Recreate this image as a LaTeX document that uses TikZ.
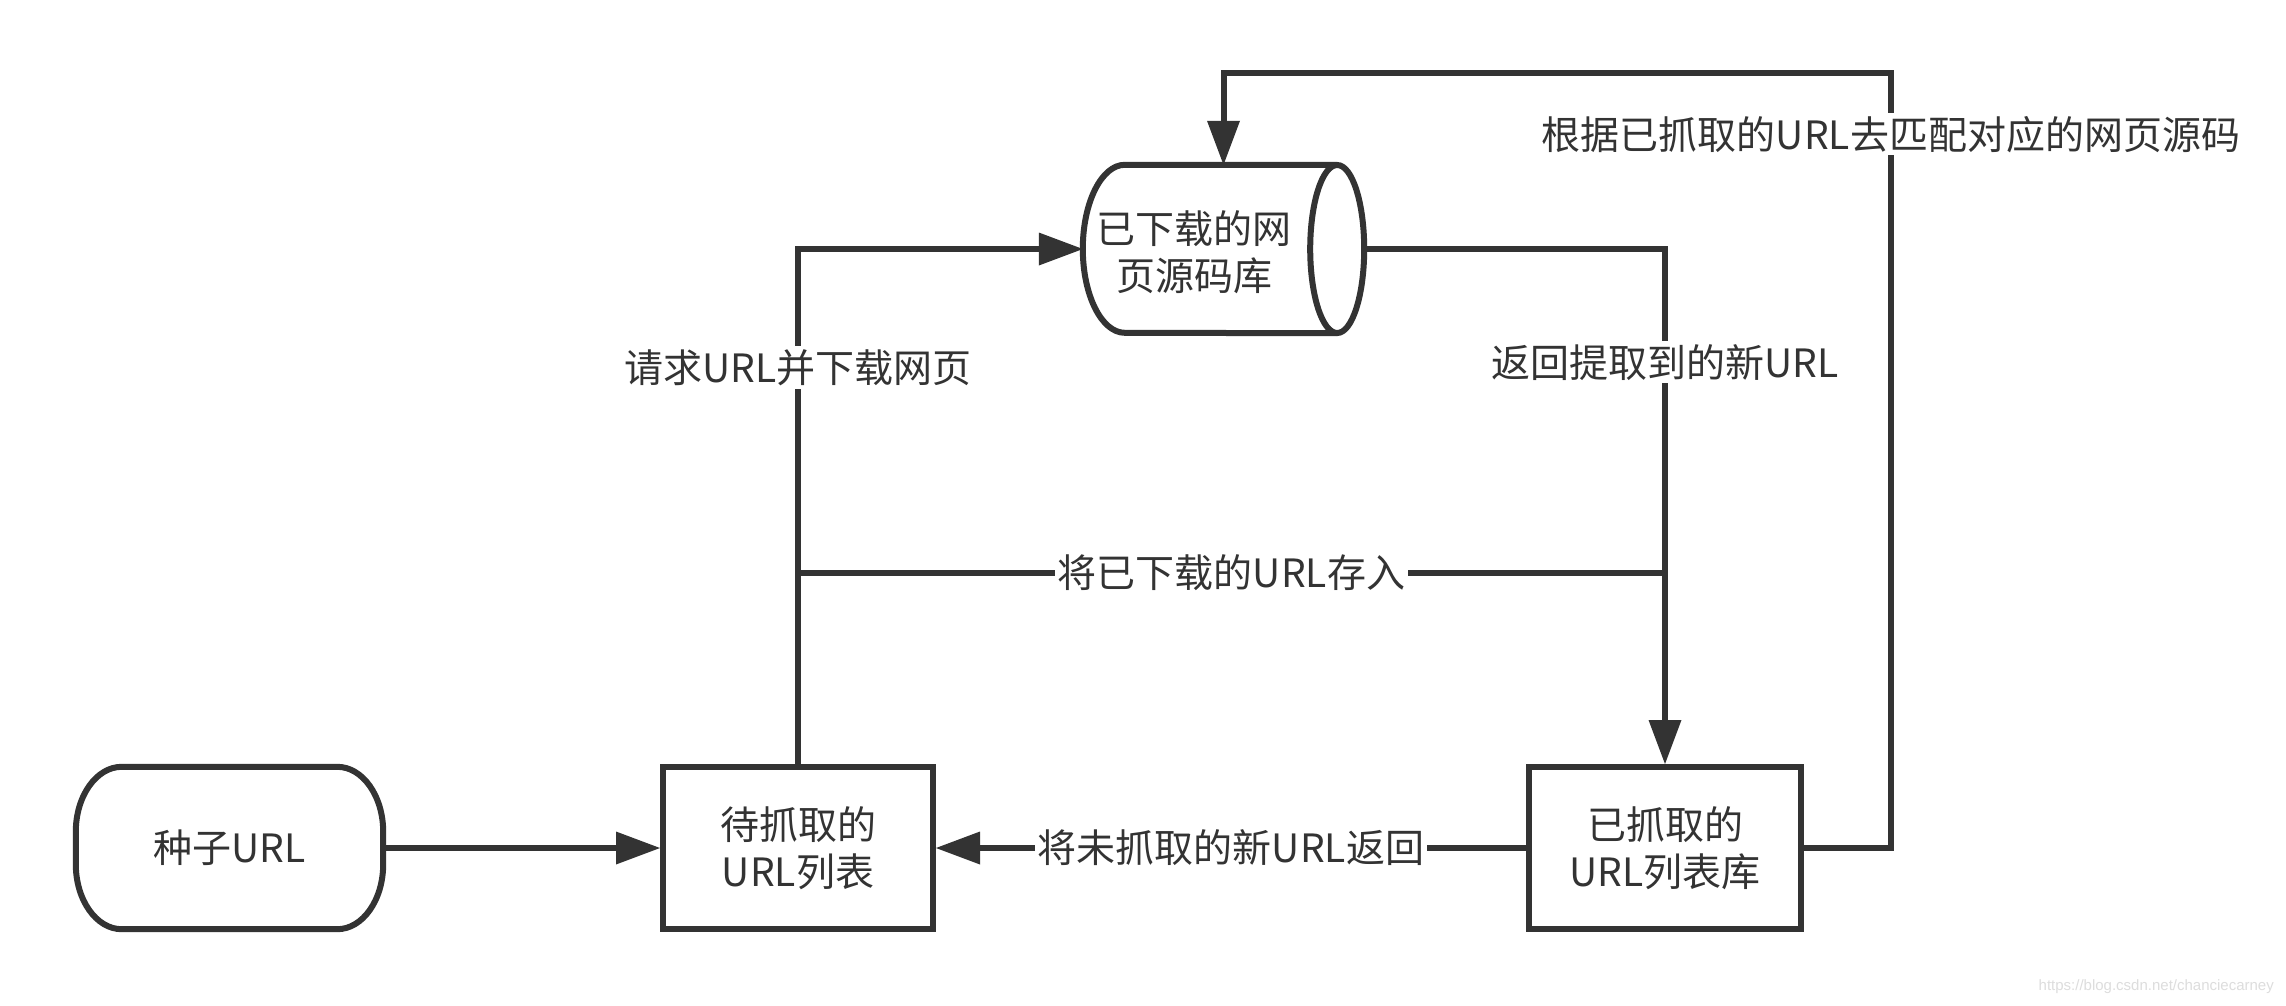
\documentclass[tikz,border=0pt]{standalone}
\usepackage{fontspec}
\setmainfont{Noto Sans CJK SC}
\newfontfamily\wmfont{Liberation Sans}
\usetikzlibrary{arrows.meta}
\definecolor{ink}{HTML}{333333}
\definecolor{wm}{HTML}{DDDDDD}
\begin{document}
\begin{tikzpicture}[x=1pt,y=-1pt,
  txt/.style={text=ink,font=\fontsize{39}{47}\selectfont,align=center},
  box/.style={txt,draw=ink,line width=6pt,minimum width=270pt,minimum height=162pt,inner sep=0pt},
  ghost/.style={txt,minimum height=162pt,inner sep=0pt},
  outline/.style={draw=ink,line width=6pt},
  conn/.style={draw=ink,line width=6pt,-{Triangle[length=44pt,width=33pt,line width=0pt]}},
  plain/.style={draw=ink,line width=6pt},
  lab/.style={txt,fill=white,inner sep=3pt}]
\useasboundingbox (0,0) rectangle (2286,1005);
\fill[white] (0,0) rectangle (2286,1005);

% nodes
\node[ghost,minimum width=307pt] (seed) at (229.5,848) {种子URL};
\node[box] (pend) at (798,848) {待抓取的\\URL列表};
\node[box,minimum width=272pt] (crawl) at (1665,848) {已抓取的\\URL列表库};
\node[inner sep=0pt,minimum width=281pt,minimum height=168pt] (cyl) at (1223.5,249) {};

% seed terminator outline
\draw[outline] ([xshift=46pt]seed.north west) -- ([xshift=-46pt]seed.north east)
  arc[start angle=90,end angle=0,x radius=46pt,y radius=65pt]
  -- ([yshift=65pt]seed.south east)
  arc[start angle=0,end angle=-90,x radius=46pt,y radius=65pt]
  -- ([xshift=46pt]seed.south west)
  arc[start angle=270,end angle=180,x radius=46pt,y radius=65pt]
  -- ([yshift=-65pt]seed.north west)
  arc[start angle=180,end angle=90,x radius=46pt,y radius=65pt] -- cycle;

% cylinder outline
\draw[outline,fill=white] ([xshift=-27pt]cyl.north east) -- ([xshift=42pt]cyl.north west)
  arc[start angle=90,end angle=270,x radius=42pt,y radius=84pt]
  -- ([xshift=-27pt]cyl.south east);
\draw[outline] ([xshift=-27pt]cyl.east) ellipse[x radius=27pt,y radius=84pt];
\node[txt] (cyltext) at (1194,252) {已下载的网\\页源码库};

% connectors
\coordinate (midy) at (0,573);
\coordinate (loop) at (1891,73);
\draw[conn] (seed.east) -- (pend.west);
\draw[conn] (crawl.west) -- node[lab]{将未抓取的新URL返回} (pend.east);
\draw[conn] (pend.north) -- node[lab,pos=0.77]{请求URL并下载网页} (pend.north |- cyl.west) -- (cyl.west);
\draw[conn] (cyl.east) -- (crawl.north |- cyl.east) -- node[lab,pos=0.22]{返回提取到的新URL} (crawl.north);
\draw[plain] (pend.north |- midy) -- node[lab]{将已下载的URL存入} (crawl.north |- midy);
\draw[conn] (crawl.east) -- (crawl.east -| loop) -- node[lab,pos=0.921]{根据已抓取的URL去匹配对应的网页源码} (loop) -- (loop -| cyl.north) -- (cyl.north);

% watermark
\node[anchor=east,text=wm,font=\wmfont\fontsize{15}{18}\selectfont,inner sep=0pt] (mark) at (2274,987) {https://blog.csdn.net/chanciecarney};
\end{tikzpicture}
\end{document}
